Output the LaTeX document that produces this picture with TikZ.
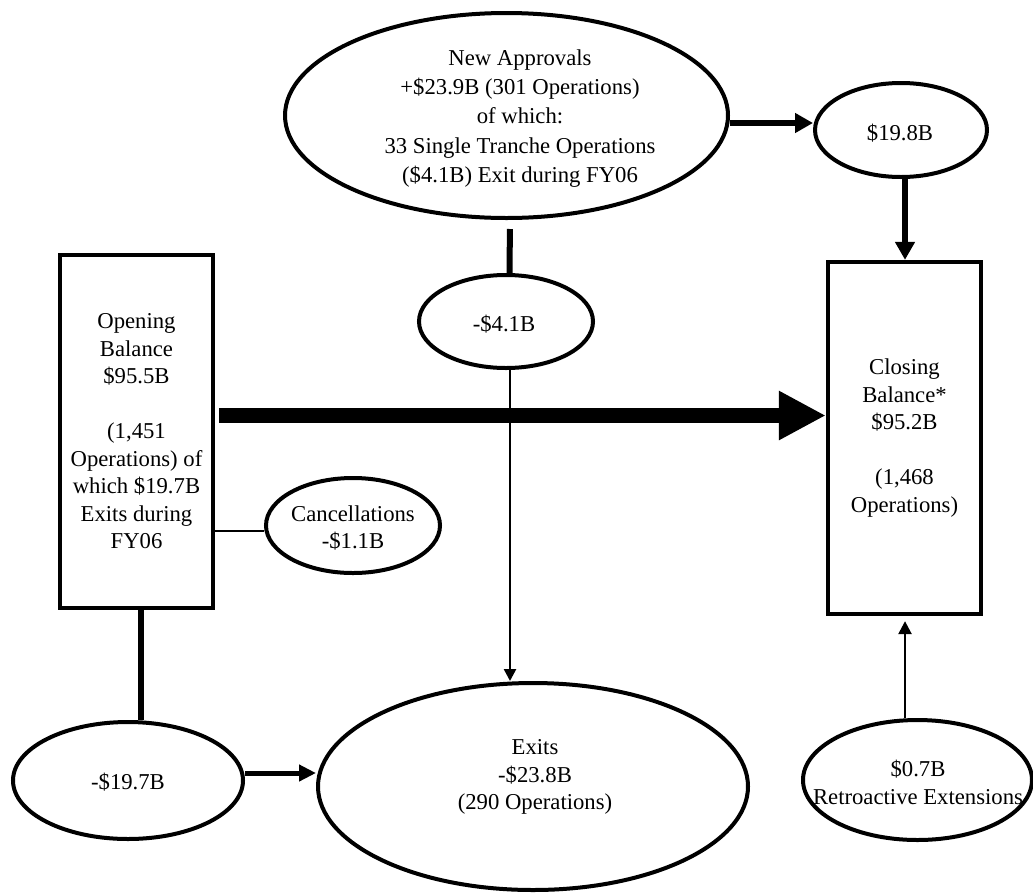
\documentclass[tikz,border=0pt]{standalone}
\usepackage{fontspec}
\setmainfont{Liberation Serif}
\usetikzlibrary{arrows.meta,shapes.geometric}
\newcommand{\diafont}{\fontsize{22.7}{27.5}\selectfont}
\newcommand{\diafontb}{\fontsize{22.7}{29.3}\selectfont}
\begin{document}
\begin{tikzpicture}[x=1pt,y=-1pt,
  ell/.style={draw, line width=4pt, ellipse, inner sep=0pt},
  boxnode/.style={draw, line width=4.3pt, rectangle, inner sep=0pt, font=\diafont, align=center},
  txt/.style={font=\diafont, align=center, inner sep=0pt},
  medarrow/.style={line width=6.5pt, -{Triangle[length=18pt,width=19pt]}},
  medarrowb/.style={line width=5pt, -{Triangle[length=17pt,width=16pt]}},
  thinarrow/.style={line width=2.5pt, -{Triangle[length=12pt,width=12pt]}},
  thinarrowb/.style={line width=2.5pt, -{Triangle[length=13pt,width=13pt]}},
  bigarrow/.style={line width=15pt, -{Triangle[length=47pt,width=46pt]}},
  thickline/.style={line width=6pt},
  thinline/.style={line width=2pt}]
\useasboundingbox (0,0) rectangle (1033,892);

% shapes
\node[ell, minimum width=443pt, minimum height=205pt] (na) at (506.5,115.5) {};
\node[txt, font=\diafontb] (naT) at (520,118.5) {New Approvals\\+\$23.9B (301 Operations)\\of which:\\33 Single Tranche Operations\\(\$4.1B) Exit during FY06};

\node[ell, minimum width=172pt, minimum height=94pt] (nb) at (901,130) {};
\node[txt] (nbT) at (900,133) {\$19.8B};

\node[ell, minimum width=174pt, minimum height=93pt] (nc) at (506,321.5) {};
\node[txt] (ncT) at (504,324) {-\$4.1B};

\node[boxnode, minimum width=153pt, minimum height=353pt] (ob) at (136.5,431.5)
  {Opening\\Balance\\\$95.5B\\[27.5pt](1,451\\Operations) of\\which \$19.7B\\Exits during\\FY06};

\node[boxnode, minimum width=153pt, minimum height=352pt] (cl) at (904.5,438)
  {Closing\\Balance*\\\$95.2B\\[27.5pt](1,468\\Operations)};

\node[ell, minimum width=174pt, minimum height=95pt] (cn) at (353,525.5) {};
\node[txt] (cnT) at (353,528) {Cancellations\\-\$1.1B};

\node[ell, minimum width=230pt, minimum height=117pt] (nd) at (128,780.5) {};
\node[txt] (ndT) at (128,782) {-\$19.7B};

\node[ell, minimum width=430pt, minimum height=207pt] (ex) at (533,786.5) {};
\node[txt] (exT) at (535,777) {Exits\\-\$23.8B\\(290 Operations)};

\node[ell, minimum width=229pt, minimum height=120pt] (ne) at (917.5,780) {};
\node[txt] (neT) at (918,782.5) {\$0.7B\\Retroactive Extensions};

% connectors
\coordinate (mainy) at (0,415.5);
\coordinate (cnl) at ([yshift=-5.5pt]cn.west);

\draw[medarrow] ([yshift=-7.5pt]na.east) -- ([yshift=7pt]nb.west);
\draw[medarrow] ([xshift=4pt]nb.south) -- ([xshift=4pt]nb.south |- cl.north);
\draw[thickline, shorten <=9pt] ([xshift=3.5pt]na.south) -- ([xshift=3.5pt]nc.north);
\draw[thinarrow] ([xshift=4pt]nc.south) -- ([xshift=4pt]nc.south |- ex.north);
\draw[bigarrow, shorten <=4pt] (ob.east |- mainy) -- (cl.west |- mainy);
\draw[thinline] (ob.east |- cnl) -- (cnl);
\draw[thickline] ([xshift=4.5pt]ob.south) -- ([xshift=4.5pt]ob.south |- nd.north);
\draw[medarrowb] ([yshift=7.5pt]nd.east) -- ([yshift=7.5pt]nd.east -| ex.west);
\draw[thinarrowb, shorten >=5pt] ([xshift=-12.5pt]ne.north) -- ([xshift=-12.5pt]ne.north |- cl.south);
\end{tikzpicture}
\end{document}
